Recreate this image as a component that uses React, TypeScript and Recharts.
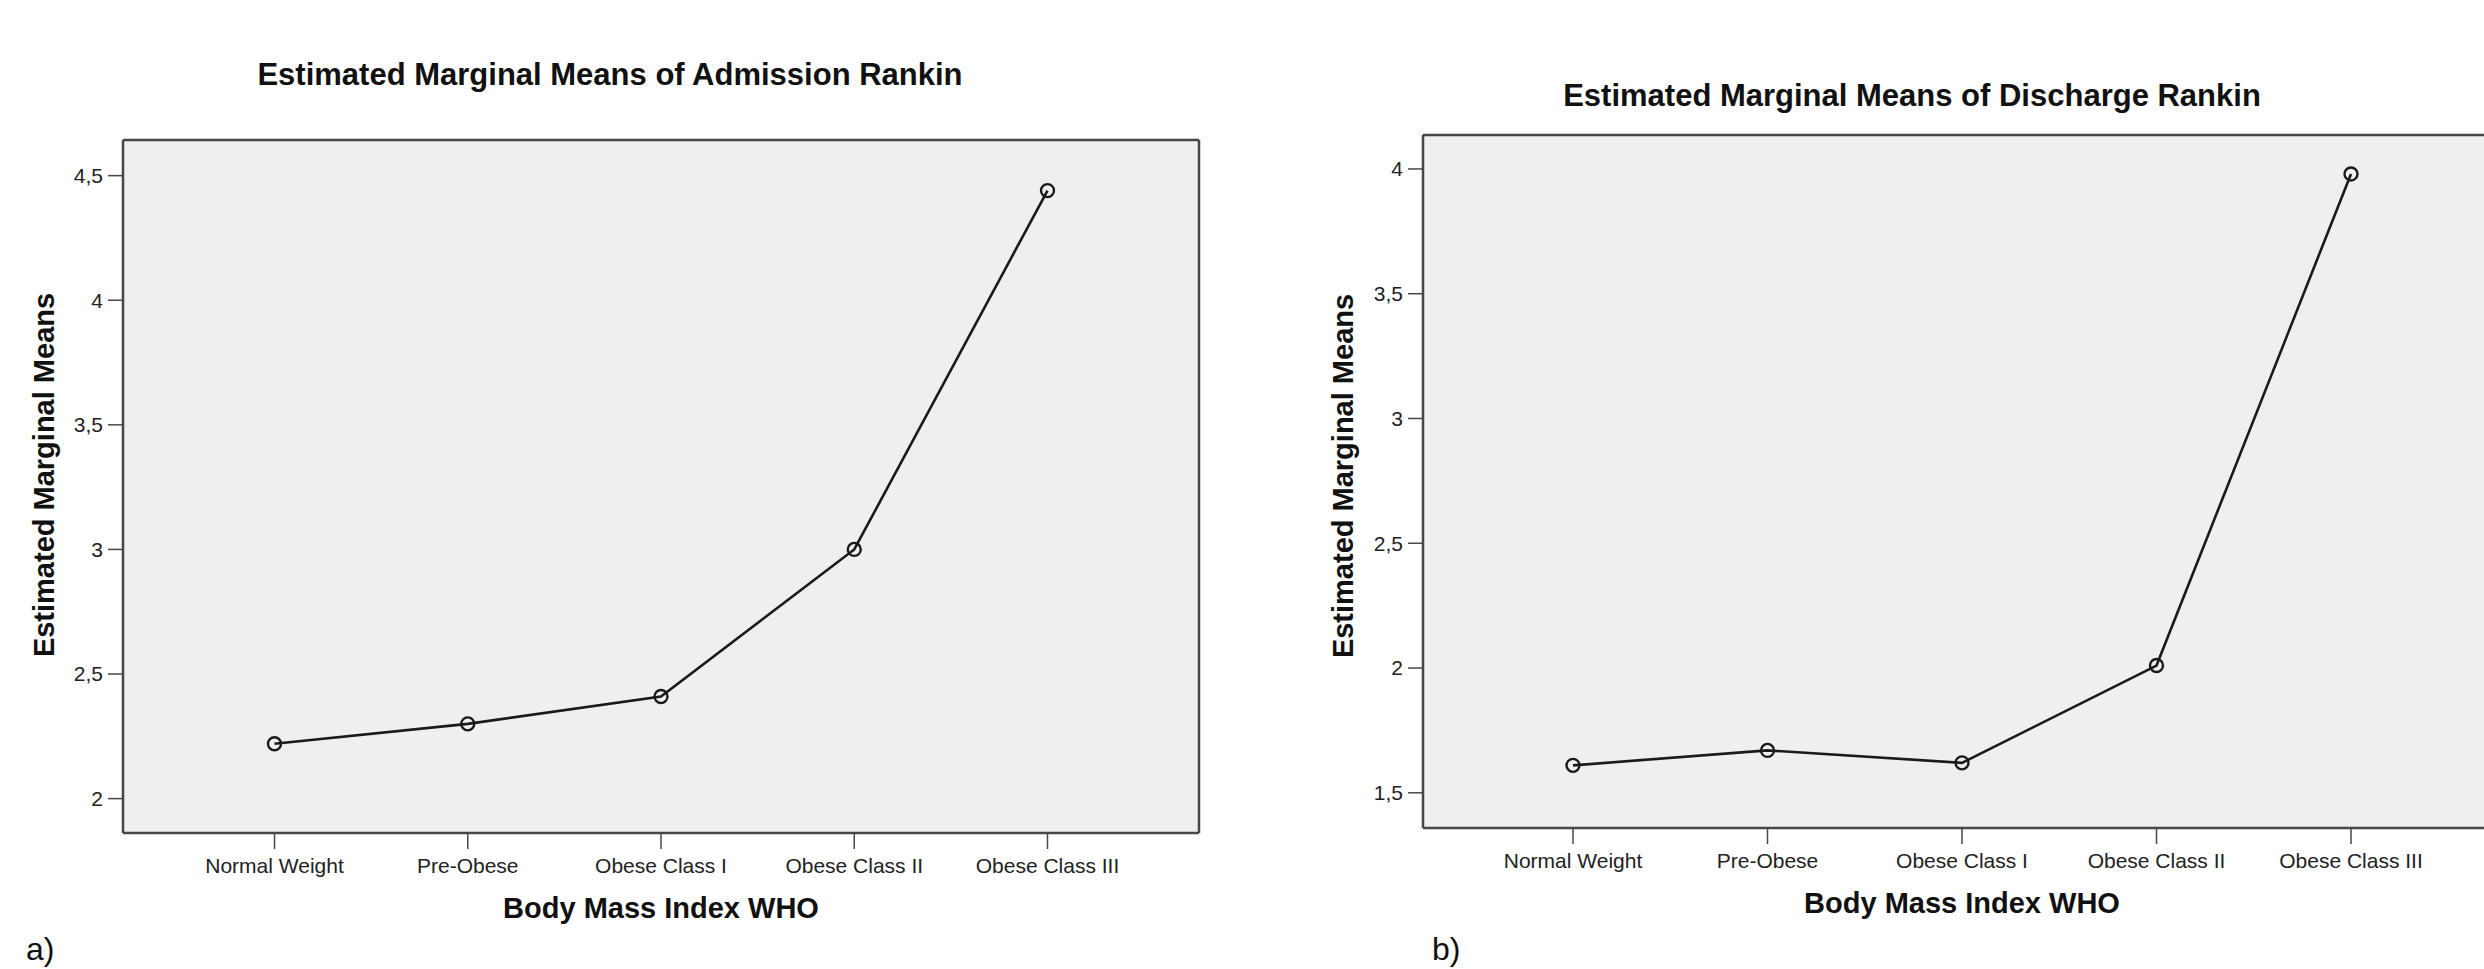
import React from "react"
import { LineChart, Line, XAxis, YAxis, CartesianGrid } from "recharts"

const categories = ["Normal Weight", "Pre-Obese", "Obese Class I", "Obese Class II", "Obese Class III"]
const admissionMeans = [2.22, 2.3, 2.41, 3.0, 4.44]
const dischargeMeans = [1.61, 1.67, 1.62, 2.01, 3.98]
const admissionTicks = [2, 2.5, 3, 3.5, 4, 4.5]
const dischargeTicks = [1.5, 2, 2.5, 3, 3.5, 4]

const admissionData = categories.map((name, i) => ({ name, value: admissionMeans[i] }))
const dischargeData = categories.map((name, i) => ({ name, value: dischargeMeans[i] }))

const BOX = "#474747"
const INK = "#1a1a1a"
const fmt = (v: number) => String(v).replace(".", ",")

type ChartProps = {
  data: { name: string; value: number }[]
  ticks: number[]
  domain: [number, number]
  width: number
  margin: { top: number; right: number; bottom: number; left: number }
  yWidth: number
  pad: number
}

const MeansChart = ({ data, ticks, domain, width, margin, yWidth, pad }: ChartProps) => {
  const line = { stroke: BOX, strokeWidth: 2.5 }
  return (
    <LineChart width={width} height={969} data={data} margin={margin}>
      <CartesianGrid fill="#efefef" horizontal={false} vertical={false} />
      {/* top and right axes only draw the frame of the plot box */}
      <XAxis
        xAxisId="top"
        orientation="top"
        dataKey="name"
        height={1}
        tick={false}
        tickLine={false}
        axisLine={line}
        padding={{ left: pad, right: pad }}
      />
      <YAxis
        yAxisId="right"
        orientation="right"
        type="number"
        domain={domain}
        width={1}
        tick={false}
        tickLine={false}
        axisLine={line}
      />
      <XAxis
        dataKey="name"
        height={100}
        interval={0}
        padding={{ left: pad, right: pad }}
        tickSize={16}
        tickMargin={9}
        tick={{ fill: "#222", fontSize: 21 }}
        tickLine={{ stroke: BOX, strokeWidth: 1.5 }}
        axisLine={line}
        label={{
          value: "Body Mass Index WHO",
          position: "insideBottom",
          offset: 15,
          fill: "#111",
          fontSize: 29,
          fontWeight: 700,
        }}
      />
      <YAxis
        type="number"
        domain={domain}
        ticks={ticks}
        allowDataOverflow
        width={yWidth}
        tickFormatter={fmt}
        tickSize={15}
        tickMargin={5}
        tick={{ fill: "#222", fontSize: 21 }}
        tickLine={{ stroke: BOX, strokeWidth: 1.5 }}
        axisLine={line}
      />
      <Line
        dataKey="value"
        stroke={INK}
        strokeWidth={2.6}
        dot={{ r: 6.5, fill: "none", stroke: INK, strokeWidth: 2.4 }}
        isAnimationActive={false}
      />
    </LineChart>
  )
}

const titleStyle = { fontSize: 31, fontWeight: 700, fill: "#111" }
const yTitleStyle = { fontSize: 29, fontWeight: 700, fill: "#111" }

export default function App() {
  return (
    <div
      style={{
        position: "absolute",
        left: 0,
        top: 0,
        width: 2484,
        height: 969,
        overflow: "hidden",
        background: "#fff",
        fontFamily: "'Liberation Sans', Arial, sans-serif",
      }}
    >
      <div style={{ position: "absolute", left: 0, top: 0 }}>
        <MeansChart
          data={admissionData}
          ticks={admissionTicks}
          domain={[1.862, 4.643]}
          width={1240}
          margin={{ top: 139, right: 40, bottom: 36, left: 0 }}
          yWidth={123}
          pad={151.5}
        />
      </div>
      <div style={{ position: "absolute", left: 1240, top: 0 }}>
        <MeansChart
          data={dischargeData}
          ticks={dischargeTicks}
          domain={[1.359, 4.136]}
          width={1300}
          margin={{ top: 134, right: 38, bottom: 41, left: 0 }}
          yWidth={183}
          pad={150}
        />
      </div>
      <svg
        width={2484}
        height={969}
        style={{ position: "absolute", left: 0, top: 0, pointerEvents: "none" }}
      >
        <text x={610} y={85} textAnchor="middle" {...titleStyle}>
          Estimated Marginal Means of Admission Rankin
        </text>
        <text x={1912} y={106} textAnchor="middle" {...titleStyle}>
          Estimated Marginal Means of Discharge Rankin
        </text>
        <text
          x={44}
          y={475}
          textAnchor="middle"
          dominantBaseline="central"
          transform="rotate(-90 44 475)"
          {...yTitleStyle}
        >
          Estimated Marginal Means
        </text>
        <text
          x={1343}
          y={476}
          textAnchor="middle"
          dominantBaseline="central"
          transform="rotate(-90 1343 476)"
          {...yTitleStyle}
        >
          Estimated Marginal Means
        </text>
        <text x={26} y={960} fontSize={32} fill="#111">
          a)
        </text>
        <text x={1432} y={960} fontSize={32} fill="#111">
          b)
        </text>
      </svg>
    </div>
  )
}
